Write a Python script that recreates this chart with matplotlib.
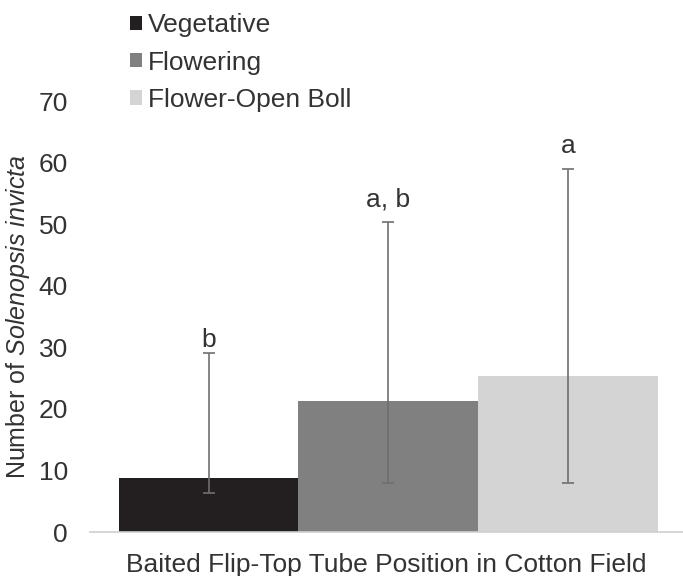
import matplotlib
matplotlib.use("Agg")
import matplotlib.pyplot as plt
import numpy as np

# values
stages = ["Vegetative", "Flowering", "Flower-Open Boll"]
means = [8.7, 21.3, 25.3]
err_low = [6.3, 7.9, 7.9]
err_high = [29.0, 50.3, 58.9]
letters = ["b", "a, b", "a"]
letter_gap = [1, 8, 8]  # points above the cap, as placed in the original
colors = ["#231f20", "#808080", "#d4d4d4"]

plt.rcParams["font.family"] = ["Liberation Sans", "DejaVu Sans"]
plt.rcParams["mathtext.fontset"] = "custom"
plt.rcParams["mathtext.rm"] = "Liberation Sans"
plt.rcParams["mathtext.it"] = "Liberation Sans:italic"

FS = 19
TXT = "#333333"

fig = plt.figure(figsize=(6.83, 5.76), dpi=100)
ax = fig.add_axes([90 / 683, 1 - 532 / 576, 1 - 90 / 683, (532 - 101) / 576])

x = np.arange(len(stages)) - 1.0
means_arr = np.array(means)
yerr = np.vstack([means_arr - np.array(err_low), np.array(err_high) - means_arr])

for xi, m, c, lab in zip(x, means, colors, stages):
    ax.bar(xi, m, width=1.0, color=c, label=lab, zorder=2)

ax.errorbar(x, means, yerr=yerr, fmt="none", ecolor="#6f6f6f",
            elinewidth=1.2, capsize=4, capthick=1.2, zorder=3)

for xi, top, txt, gap in zip(x, err_high, letters, letter_gap):
    ax.annotate(txt, (xi, top), xytext=(0, gap), textcoords="offset points",
                ha="center", va="bottom", fontsize=FS, color=TXT)

ax.set_xlim(-1.66, 1.64)
ax.set_ylim(0, 70)
ax.set_yticks(range(0, 71, 10))
ax.tick_params(axis="y", length=0, pad=16, labelsize=FS, labelcolor=TXT)
ax.set_xticks([])
for side in ["left", "right", "top"]:
    ax.spines[side].set_visible(False)
ax.spines["bottom"].set_color("#d0d0d0")
ax.spines["bottom"].set_linewidth(1.2)

ax.set_xlabel("Baited Flip-Top Tube Position in Cotton Field",
              fontsize=FS, color=TXT, labelpad=15)
ax.set_ylabel(r"Number of $\it{Solenopsis\ invicta}$", fontsize=18, color=TXT)
ax.yaxis.set_label_coords(-58 / 593, 0.5)

fig.legend(loc="upper left", bbox_to_anchor=(112 / 683, 1 + 5 / 576),
           frameon=False, fontsize=FS, handlelength=0.45, handleheight=0.45,
           handletextpad=0.2, labelspacing=0.5, borderpad=0.2,
           labelcolor=TXT)

fig.savefig("out.png", dpi=100)
